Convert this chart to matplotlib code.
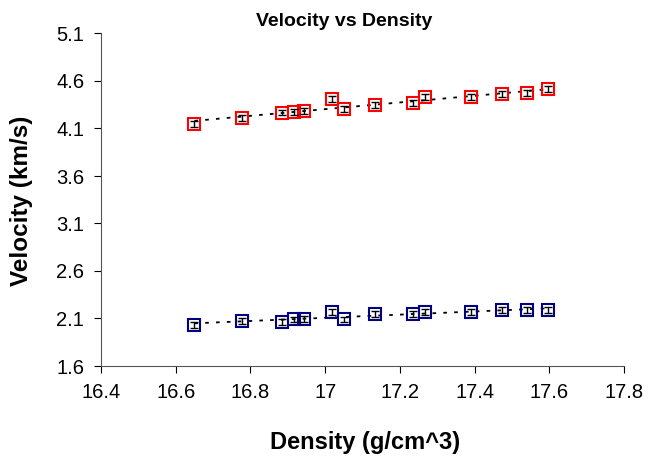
import matplotlib.pyplot as plt
import numpy as np

plt.rcParams['font.family'] = ['Liberation Sans', 'DejaVu Sans']

density = [16.65, 16.778, 16.884, 16.917, 16.943, 17.019, 17.05,
           17.133, 17.235, 17.268, 17.39, 17.473, 17.54, 17.597]
vel_p = [4.147, 4.207, 4.267, 4.27, 4.287, 4.407, 4.305,
         4.347, 4.372, 4.428, 4.428, 4.463, 4.47, 4.516]
vel_s = [2.03, 2.077, 2.066, 2.09, 2.095, 2.17, 2.09,
         2.147, 2.147, 2.17, 2.165, 2.19, 2.19, 2.19]
err = 0.03

x = np.array(density)

W, H = 651, 461
fig = plt.figure(figsize=(W / 100, H / 100), dpi=100)
ax = fig.add_axes([101 / W, 1 - 366 / H, 523 / W, 332.5 / H])

for v, c in [(vel_p, 'red'), (vel_s, '#000080')]:
    v = np.array(v)
    ax.plot(x, v, linestyle='none', marker='s', markersize=8.5,
            markerfacecolor='none', markeredgecolor=c, markeredgewidth=1.5, zorder=3)
    ax.errorbar(x, v, yerr=err, fmt='none', ecolor='black', elinewidth=1,
                capsize=3, capthick=1, zorder=4)
    m, b = np.polyfit(x, v, 1)
    ax.plot(x[[0, -1]], m * x[[0, -1]] + b, color='black', linestyle=(0, (2, 4)),
            linewidth=1.3, zorder=2)

ax.set_xlim(16.4, 17.8)
ax.set_ylim(1.6, 5.1)
ax.set_xticks(np.arange(16.4, 17.81, 0.2))
ax.set_xticklabels(['16.4', '16.6', '16.8', '17', '17.2', '17.4', '17.6', '17.8'])
ax.set_yticks(np.arange(1.6, 5.11, 0.5))
ax.set_yticklabels(['1.6', '2.1', '2.6', '3.1', '3.6', '4.1', '4.6', '5.1'])
ax.tick_params(direction='out', length=5, width=0.8, labelsize=14.5, pad=7)

ax.spines['top'].set_visible(False)
ax.spines['right'].set_visible(False)
ax.spines['left'].set_color('#555555')
ax.spines['bottom'].set_color('#555555')

fig.text(344 / W, 1 - 22 / H, 'Velocity vs Density', fontsize=14, fontweight='bold',
         ha='center', va='center')
fig.text(365 / W, 1 - 442 / H, 'Density (g/cm^3)', fontsize=17, fontweight='bold',
         ha='center', va='center')
fig.text(22 / W, 1 - 201 / H, 'Velocity (km/s)', fontsize=17.5, fontweight='bold',
         ha='center', va='center', rotation=90)

fig.savefig('out.png', dpi=100)
